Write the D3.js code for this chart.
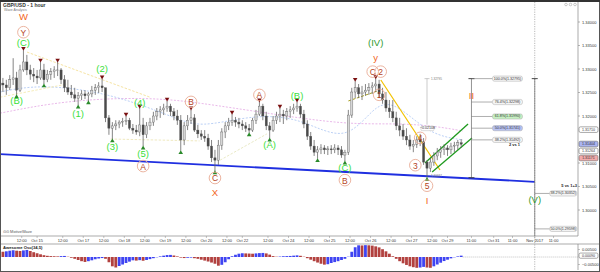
<!DOCTYPE html>
<html lang="en">
<head>
<meta charset="UTF-8">
<title>GBP/USD - 1 hour</title>
<script src="https://d3js.org/d3.v7.min.js"></script>
<style>
  body { margin: 0; background: #fff; }
  svg { display: block; font-family: "Liberation Sans", Arial, sans-serif; }
  .axis-label { font-size: 4px; fill: #333; }
  .wave { font-size: 9.5px; text-anchor: middle; dominant-baseline: central; }
  .green { fill: #3ae03a; }
  .dkgreen { fill: #2f9a2f; }
  .orange { fill: #f26522; }
  .circ-text { fill: #b5441b; font-size: 8.5px; }
  .box-text { font-size: 3.6px; fill: #333; text-anchor: middle; dominant-baseline: central; }
</style>
</head>
<body>
<div id="chart"></div>
<script>
// 2-hour bars, hour index 0 = Oct 13 12:00 (weekends collapsed)
const barHours = d3.range(-11, 258, 2);
const firstOpen = 1.3270;
const closes = [
  1.3266, 1.3260, 1.3277, 1.3281, 1.3255, 1.3298, 1.3315, 1.3298, 1.3289, 1.3285,
  1.3281, 1.3298, 1.3277, 1.3289, 1.3294, 1.3298, 1.3298, 1.3277, 1.3260, 1.3251,
  1.3245, 1.3238, 1.3243, 1.3247, 1.3243, 1.3247, 1.3255, 1.3260, 1.3264, 1.3260,
  1.3196, 1.3174, 1.3179, 1.3183, 1.3187, 1.3189, 1.3191, 1.3174, 1.3170, 1.3166,
  1.3181, 1.3160, 1.3179, 1.3187, 1.3200, 1.3209, 1.3213, 1.3217, 1.3221, 1.3209,
  1.3200, 1.3191, 1.3149, 1.3179, 1.3191, 1.3196, 1.3170, 1.3162, 1.3157, 1.3153,
  1.3136, 1.3111, 1.3106, 1.3138, 1.3166, 1.3179, 1.3187, 1.3191, 1.3187, 1.3183,
  1.3179, 1.3174, 1.3170, 1.3191, 1.3204, 1.3221, 1.3200, 1.3179, 1.3170, 1.3191,
  1.3200, 1.3204, 1.3200, 1.3209, 1.3213, 1.3217, 1.3221, 1.3204, 1.3183, 1.3157,
  1.3136, 1.3123, 1.3128, 1.3132, 1.3128, 1.3130, 1.3128, 1.3132, 1.3128, 1.3117,
  1.3123, 1.3202, 1.3251, 1.3260, 1.3247, 1.3251, 1.3255, 1.3260, 1.3264, 1.3268,
  1.3247, 1.3234, 1.3217, 1.3209, 1.3196, 1.3179, 1.3170, 1.3157, 1.3149, 1.3136,
  1.3140, 1.3149, 1.3145, 1.3102, 1.3089, 1.3102, 1.3115, 1.3123, 1.3128, 1.3132,
  1.3128, 1.3136, 1.3138, 1.3143, 1.3140
];
const highs = [
  1.3281, 1.3277, 1.3287, 1.3323, 1.3294, 1.3309, 1.3340, 1.3330, 1.3309, 1.3302,
  1.3298, 1.3315, 1.3311, 1.3298, 1.3302, 1.3306, 1.3315, 1.3302, 1.3287, 1.3277,
  1.3266, 1.3260, 1.3251, 1.3255, 1.3255, 1.3251, 1.3264, 1.3268, 1.3272, 1.3279,
  1.3260, 1.3202, 1.3187, 1.3191, 1.3191, 1.3196, 1.3200, 1.3196, 1.3183, 1.3181,
  1.3217, 1.3196, 1.3187, 1.3196, 1.3209, 1.3217, 1.3221, 1.3226, 1.3232, 1.3226,
  1.3217, 1.3213, 1.3202, 1.3187, 1.3202, 1.3213, 1.3204, 1.3181, 1.3170, 1.3170,
  1.3162, 1.3149, 1.3128, 1.3149, 1.3174, 1.3187, 1.3196, 1.3204, 1.3198, 1.3196,
  1.3191, 1.3187, 1.3183, 1.3196, 1.3213, 1.3230, 1.3226, 1.3209, 1.3187, 1.3200,
  1.3209, 1.3217, 1.3213, 1.3217, 1.3221, 1.3226, 1.3230, 1.3226, 1.3213, 1.3191,
  1.3166, 1.3149, 1.3136, 1.3140, 1.3138, 1.3136, 1.3138, 1.3140, 1.3138, 1.3136,
  1.3128, 1.3213, 1.3260, 1.3274, 1.3268, 1.3264, 1.3268, 1.3270, 1.3272, 1.32795,
  1.3277, 1.3260, 1.3251, 1.3234, 1.3234, 1.3209, 1.3196, 1.3183, 1.3174, 1.3160,
  1.3149, 1.3157, 1.3162, 1.3153, 1.3106, 1.3111, 1.3123, 1.3132, 1.3136, 1.3140,
  1.3138, 1.3143, 1.3145, 1.3149, 1.3151
];
const lows = [
  1.3251, 1.3245, 1.3255, 1.3266, 1.3245, 1.3251, 1.3294, 1.3287, 1.3277, 1.3272,
  1.3268, 1.3277, 1.3268, 1.3272, 1.3277, 1.3281, 1.3285, 1.3268, 1.3251, 1.3245,
  1.3238, 1.3230, 1.3223, 1.3234, 1.3236, 1.3232, 1.3240, 1.3245, 1.3249, 1.3251,
  1.3187, 1.3160, 1.3151, 1.3170, 1.3174, 1.3177, 1.3181, 1.3170, 1.3162, 1.3160,
  1.3157, 1.3136, 1.3153, 1.3170, 1.3179, 1.3191, 1.3196, 1.3202, 1.3209, 1.3200,
  1.3191, 1.3181, 1.3126, 1.3138, 1.3170, 1.3183, 1.3166, 1.3153, 1.3149, 1.3145,
  1.3128, 1.3102, 1.3083, 1.3096, 1.3128, 1.3153, 1.3170, 1.3179, 1.3177, 1.3174,
  1.3170, 1.3166, 1.3164, 1.3166, 1.3183, 1.3200, 1.3191, 1.3170, 1.3153, 1.3166,
  1.3183, 1.3187, 1.3183, 1.3191, 1.3196, 1.3204, 1.3209, 1.3196, 1.3174, 1.3149,
  1.3128, 1.3115, 1.3109, 1.3119, 1.3119, 1.3117, 1.3119, 1.3121, 1.3117, 1.3111,
  1.3104, 1.3117, 1.3196, 1.3238, 1.3238, 1.3234, 1.3243, 1.3245, 1.3247, 1.3251,
  1.3238, 1.3226, 1.3209, 1.3196, 1.3187, 1.3170, 1.3157, 1.3149, 1.3138, 1.3128,
  1.3123, 1.3132, 1.3136, 1.3096, 1.30687, 1.3081, 1.3094, 1.3106, 1.3111, 1.3117,
  1.3115, 1.3119, 1.3123, 1.3128, 1.3132
];
const awesomeOsc = [
  0.0035, 0.0038, 0.0042, 0.0045, 0.0042, 0.0040, 0.0044, 0.0047, 0.0040, 0.0032,
  0.0025, 0.0018, 0.0012, 0.0008, 0.0006, 0.0005, 0.0004, 0.0006, 0.0007, 0.0002,
  -0.0005, -0.0012, -0.0020, -0.0028, -0.0033, -0.0028, -0.0022, -0.0015, -0.0010, -0.0007,
  -0.0012, -0.0035, -0.0062, -0.0070, -0.0060, -0.0050, -0.0040, -0.0031, -0.0022, -0.0024,
  -0.0021, -0.0025, -0.0020, -0.0014, -0.0008, -0.0002, 0.0004, 0.0009, 0.0013, 0.0014,
  0.0010, 0.0004, -0.0004, -0.0007, -0.0005, -0.0004, -0.0008, -0.0012, -0.0018, -0.0024,
  -0.0030, -0.0037, -0.0045, -0.0058, -0.0052, -0.0035, -0.0015, 0.0005, 0.0015, 0.0022,
  0.0025, 0.0024, 0.0023, 0.0022, 0.0024, 0.0026, 0.0027, 0.0024, 0.0016, 0.0006,
  0.0002, 0.0003, 0.0005, 0.0006, 0.0007, 0.0009, 0.0011, 0.0008, 0.0002, -0.0008,
  -0.0018, -0.0028, -0.0037, -0.0045, -0.0051, -0.0048, -0.0040, -0.0034, -0.0028, -0.0020,
  -0.0012, 0.0002, 0.0035, 0.0065, 0.0078, 0.0077, 0.0079, 0.0078, 0.0076, 0.0071,
  0.0064, 0.0052, 0.0038, 0.0022, 0.0005, -0.0012, -0.0028, -0.0042, -0.0053, -0.0062,
  -0.0068, -0.0072, -0.0070, -0.0066, -0.0070, -0.0072, -0.0062, -0.0050, -0.0038, -0.0027,
  -0.0018, -0.0009, -0.0002, 0.0004, 0.0009
];

const priceTicks = [1.34, 1.335, 1.33, 1.325, 1.32, 1.31, 1.305, 1.30];
const timeTickHours = [0, 9, 24, 36, 48, 60, 72, 84, 96, 108, 120, 129, 144, 156, 168, 180, 192, 204, 216, 228, 240, 249, 263, 276, 287, 300, 311];
const timeTickLabels = ["12:00", "Oct 15", "12:00", "Oct 17", "12:00", "Oct 18", "12:00", "Oct 19", "12:00", "Oct 20", "12:00", "Oct 22",
  "12:00", "Oct 24", "12:00", "Oct 25", "12:00", "Oct 26", "12:00", "Oct 27", "12:00", "Oct 29", "11:00", "Oct 31", "11:00", "Nov 2017", "11:00"];
const oscTicks = [0.005, -0.005];

// faint moving averages [hour, price]
const maPink = [[-12.7, 1.3206], [26.5, 1.3234], [75, 1.3240], [104.3, 1.3228], [143.4, 1.3206], [190.2, 1.3181], [221.2, 1.3185], [244.6, 1.3177], [258, 1.3168]];
const maBlue = [[-12.7, 1.3251], [10.7, 1.3268], [51.6, 1.3249], [88.5, 1.3198], [104.3, 1.3174], [133.5, 1.3202], [162.8, 1.3198], [190.2, 1.3138], [207.8, 1.3234], [221.2, 1.3221], [238.8, 1.3160], [258, 1.3149]];

// wave markers (bar hour of swing highs / lows)
const highMarks = [1, 11, 21, 47, 61, 69, 85, 99, 123, 139, 151, 161, 195, 207];
const lowMarks = [-3, 13, 33, 39, 53, 71, 93, 113, 133, 145, 173, 189, 237];

const waveLabels = [
  { h: 1, at: "h", dy: -34, text: "W", cls: "orange" },
  { h: 1, at: "h", dy: -18, text: "Y", cls: "circ" },
  { h: 1, at: "h", dy: -8, text: "(C)", cls: "green" },
  { h: -3, at: "l", dy: 6, text: "(B)", cls: "green" },
  { h: 47, at: "h", dy: -10, text: "(2)", cls: "green" },
  { h: 33, at: "l", dy: 8, text: "(1)", cls: "green" },
  { h: 69, at: "h", dy: -6, text: "(4)", cls: "green" },
  { h: 53, at: "l", dy: 7, text: "(3)", cls: "green" },
  { h: 71, at: "l", dy: 7, text: "(5)", cls: "green" },
  { h: 71, at: "l", dy: 20, text: "A", cls: "circ" },
  { h: 99, at: "h", dy: -8, text: "B", cls: "circ" },
  { h: 113, at: "l", dy: 7, text: "C", cls: "circ" },
  { h: 113, at: "l", dy: 22, text: "X", cls: "orange" },
  { h: 139, at: "h", dy: -7, text: "A", cls: "circ" },
  { h: 145, at: "l", dy: 6, text: "(A)", cls: "green" },
  { h: 161, at: "h", dy: -6, text: "(B)", cls: "green" },
  { h: 189, at: "l", dy: 6, text: "(C)", cls: "green" },
  { h: 189, at: "l", dy: 19, text: "B", cls: "circ" },
  { h: 207, at: "h", dy: -36, text: "(IV)", cls: "dkgreen" },
  { h: 207, at: "h", dy: -21, text: "y", cls: "orange" },
  { h: 207, at: "h", dy: -7, dx: -3, text: "C", cls: "circ" },
  { h: 207, at: "h", dy: -7, dx: 5, text: "2", cls: "circ" },
  { h: 209, at: "h", dy: 15, text: "1", cls: "circ" },
  { h: 229, at: "l", dy: 13, dx: 2, text: "3", cls: "circ" },
  { h: 233, at: "h", dy: 4, text: "4", cls: "circ" },
  { h: 237, at: "l", dy: 8, text: "5", cls: "circ" },
  { h: 237, at: "l", dy: 23, text: "I", cls: "orange" }
];

// fibonacci tools
const fibHigh = 1.32795, fibLow = 1.30687;
const fibRatios = [1, 0.764, 0.618, 0.5, 0.382];
const fibProjRange = 0.06394;
const fibProjRatios = [0.382, 0.5];
const axisBoxes = [
  { v: 1.31710, fill: "#ffffff" },
  { v: 1.31404, fill: "#aab4f0" },
  { v: 1.31264, fill: "#ffffff" },
  { v: 1.31171, fill: "#f2aaaa" }
];

const plotRight = 578, priceTop = 2, priceBottom = 236, oscTop = 244, oscBottom = 270;

const svg = d3.select("#chart").append("svg")
  .attr("width", 600)
  .attr("height", 272);

const x = d3.scaleLinear().domain([-12.7, 325.3]).range([0, plotRight]);
const y = d3.scaleLinear().domain([1.30, 1.34]).range([210, 22]);
const yo = d3.scaleLinear().domain([-0.005, 0.005]).range([264.5, 249.5]);

svg.append("defs").append("clipPath").attr("id", "priceClip")
  .append("rect").attr("x", 0).attr("y", priceTop)
  .attr("width", plotRight).attr("height", priceBottom - priceTop);

const bars = closes.map((c, k) => ({
  h: barHours[k], o: k ? closes[k - 1] : firstOpen, hi: highs[k], lo: lows[k], c: c
}));
const barAt = h => bars[(h + 11) / 2];

const price = svg.append("g").attr("clip-path", "url(#priceClip)");

// moving averages
const maLine = d3.line().x(d => x(d[0])).y(d => y(d[1])).curve(d3.curveBasis);
price.append("path").attr("d", maLine(maPink))
  .attr("fill", "none").attr("stroke", "#e3a6e3").attr("stroke-width", 0.8).attr("stroke-dasharray", "2,1.5");
price.append("path").attr("d", maLine(maBlue))
  .attr("fill", "none").attr("stroke", "#a9c4f2").attr("stroke-width", 0.8).attr("stroke-dasharray", "2,1.5");

// trend lines [hour, price]
const trendLines = [
  { pts: [[3.1, 1.3336], [75, 1.3240]], color: "#f2dc8c", w: 0.8, dash: "2.5,1.5" },
  { pts: [[-12.7, 1.3240], [26.5, 1.3268]], color: "#f2e6a6", w: 0.8, dash: "2.5,1.5" },
  { pts: [[52, 1.3151], [104, 1.3147]], color: "#ebe3b0", w: 0.8, dash: "2.5,1.5" },
  { pts: [[116, 1.3106], [143.4, 1.3162]], color: "#e3e3b8", w: 0.8, dash: "2.5,1.5" },
  { pts: [[191, 1.3232], [209.5, 1.3255]], color: "#a8a020", w: 1, dash: "3,1.5" },
  { pts: [[210, 1.32766], [244.6, 1.30851]], color: "#f2c200", w: 1.2, dash: null },
  { pts: [[235.8, 1.3100], [261, 1.3183]], color: "#1e9a1e", w: 1.3, dash: null },
  { pts: [[240, 1.3081], [263.3, 1.3153]], color: "#1e9a1e", w: 1.3, dash: null },
  { pts: [[-12.7, 1.3119], [300, 1.3060]], color: "#1f2fe0", w: 1.8, dash: null }
];
trendLines.forEach(tl => {
  price.append("line")
    .attr("x1", x(tl.pts[0][0])).attr("y1", y(tl.pts[0][1]))
    .attr("x2", x(tl.pts[1][0])).attr("y2", y(tl.pts[1][1]))
    .attr("stroke", tl.color).attr("stroke-width", tl.w)
    .attr("stroke-dasharray", tl.dash);
});

// candles
const candles = price.append("g").selectAll("g").data(bars).join("g");
candles.append("line")
  .attr("x1", d => x(d.h)).attr("x2", d => x(d.h))
  .attr("y1", d => y(d.hi)).attr("y2", d => y(d.lo))
  .attr("stroke", "#666").attr("stroke-width", 0.8);
candles.append("rect")
  .attr("x", d => x(d.h) - 1.1).attr("width", 2.2)
  .attr("y", d => Math.min(y(d.o), y(d.c)))
  .attr("height", d => Math.max(0.6, Math.abs(y(d.o) - y(d.c))))
  .attr("fill", d => d.c >= d.o ? "#d6d6d6" : "#4a4a4a")
  .attr("stroke", "#555").attr("stroke-width", 0.35);

// swing markers
const tri = d3.symbol(d3.symbolTriangle).size(9);
price.append("g").selectAll("path").data(highMarks).join("path")
  .attr("d", tri)
  .attr("transform", h => `translate(${x(h)},${y(barAt(h).hi) - 2}) rotate(180)`)
  .attr("fill", "#7a1010");
price.append("g").selectAll("path").data(lowMarks).join("path")
  .attr("d", tri)
  .attr("transform", h => `translate(${x(h)},${y(barAt(h).lo) + 2})`)
  .attr("fill", "#2a8a2a");

// measuring tool near wave 5
const measH = 237;
const mg = svg.append("g").attr("stroke", "#aaa").attr("stroke-width", 0.6);
mg.append("line").attr("x1", x(measH)).attr("x2", x(measH)).attr("y1", y(fibHigh)).attr("y2", y(fibHigh) + 46);
mg.append("line").attr("x1", x(measH) - 2.5).attr("x2", x(measH) + 2.5).attr("y1", y(fibHigh)).attr("y2", y(fibHigh));
svg.append("text").attr("x", x(measH) + 4).attr("y", y(fibHigh) + 1.5)
  .attr("font-size", 3).attr("fill", "#777").text(d3.format(".5f")(fibHigh));
svg.append("rect").attr("x", x(measH) - 6).attr("y", y(fibHigh) + 47.5).attr("width", 13).attr("height", 4.5)
  .attr("rx", 1).attr("fill", "#fff").attr("stroke", "#aaa").attr("stroke-width", 0.4);
svg.append("text").attr("class", "box-text").attr("x", x(measH) + 0.5).attr("y", y(fibHigh) + 49.8)
  .attr("font-size", 3).text(d3.format(".5f")(fibLow - fibHigh));
svg.append("text").attr("x", x(measH) + 4).attr("y", y(fibLow) - 1)
  .attr("font-size", 3).attr("fill", "#777").text(d3.format(".5f")(fibLow));

// wave labels
const labelPos = d => {
  const b = barAt(d.h);
  return [x(d.h) + (d.dx || 0), y(d.at === "h" ? b.hi : b.lo) + d.dy];
};
const labels = svg.append("g");
waveLabels.forEach(d => {
  const [lx, ly] = labelPos(d);
  if (d.cls === "circ") {
    labels.append("circle").attr("cx", lx).attr("cy", ly).attr("r", 5.8)
      .attr("fill", "none").attr("stroke", "#e9ab95").attr("stroke-width", 0.9);
    labels.append("text").attr("class", "wave circ-text").attr("x", lx).attr("y", ly + 0.5).text(d.text);
  } else {
    labels.append("text").attr("class", "wave " + d.cls).attr("x", lx).attr("y", ly).text(d.text);
  }
});

// fib retracement tool
const fibH = 263;
const fibX = x(fibH), boxX = fibX + 21, boxW = 30;
const fg = svg.append("g");
fg.append("line").attr("x1", fibX).attr("x2", fibX).attr("y1", y(fibHigh)).attr("y2", y(fibLow))
  .attr("stroke", "#666").attr("stroke-width", 0.7);
[fibHigh, fibLow].forEach(v => {
  fg.append("line").attr("x1", fibX - 3).attr("x2", fibX + 3).attr("y1", y(v)).attr("y2", y(v))
    .attr("stroke", "#333").attr("stroke-width", 0.9);
});
fibRatios.forEach(r => {
  const v = fibLow + r * (fibHigh - fibLow);
  const fill = r === 0.618 ? "#c6efc2" : r === 0.5 ? "#b8c2f2" : "#f4f4f4";
  fg.append("line").attr("x1", fibX).attr("x2", boxX).attr("y1", y(v)).attr("y2", y(v))
    .attr("stroke", "#777").attr("stroke-width", 0.6);
  fg.append("rect").attr("x", boxX).attr("y", y(v) - 2.6).attr("width", boxW).attr("height", 5.2)
    .attr("rx", 2).attr("fill", fill).attr("stroke", "#999").attr("stroke-width", 0.4);
  fg.append("text").attr("class", "box-text").attr("x", boxX + boxW / 2).attr("y", y(v))
    .text(`${(r * 100).toFixed(1)}%(${v.toFixed(5)})`);
});
fg.append("text").attr("x", boxX + 22).attr("y", y(fibLow + 0.382 * (fibHigh - fibLow)) + 6)
  .attr("font-size", 4).attr("font-weight", "bold").attr("text-anchor", "middle").attr("fill", "#222").text("2 vs 1");
fg.append("text").attr("class", "wave orange").attr("x", fibX).attr("y", y(fibHigh) + 17)
  .attr("font-size", 11).text("II");

// fib projection tool
const projH = 300;
const projX = x(projH), projBoxX = projX + 15, projBoxW = 27;
const pg = svg.append("g");
pg.append("line").attr("x1", projX).attr("x2", projX).attr("y1", priceTop).attr("y2", oscBottom)
  .attr("stroke", "#888").attr("stroke-width", 0.6).attr("stroke-dasharray", "1.2,1.2");
pg.append("line").attr("x1", projX).attr("x2", projX).attr("y1", y(fibHigh)).attr("y2", priceBottom)
  .attr("stroke", "#666").attr("stroke-width", 0.7);
pg.append("line").attr("x1", projX - 3).attr("x2", projX + 3).attr("y1", y(fibHigh)).attr("y2", y(fibHigh))
  .attr("stroke", "#333").attr("stroke-width", 0.9);
fibProjRatios.forEach(r => {
  const v = fibHigh - r * fibProjRange;
  pg.append("line").attr("x1", projX).attr("x2", projBoxX).attr("y1", y(v)).attr("y2", y(v))
    .attr("stroke", "#777").attr("stroke-width", 0.6);
  pg.append("rect").attr("x", projBoxX).attr("y", y(v) - 2.6).attr("width", projBoxW).attr("height", 5.2)
    .attr("rx", 2).attr("fill", "#f4f4f4").attr("stroke", "#999").attr("stroke-width", 0.4);
  pg.append("text").attr("class", "box-text").attr("x", projBoxX + projBoxW / 2).attr("y", y(v))
    .text(`${(r * 100).toFixed(1)}%(${v.toFixed(5)})`);
});
const proj382 = fibHigh - 0.382 * fibProjRange;
pg.append("text").attr("x", plotRight - 1).attr("y", y(proj382) - 6).attr("text-anchor", "end")
  .attr("font-size", 4).attr("font-weight", "bold").attr("fill", "#222").text("5 vs 1+3");
pg.append("text").attr("class", "wave dkgreen").attr("x", projX).attr("y", y(proj382) + 6).text("(V)");

// price axis (right)
svg.append("line").attr("x1", plotRight).attr("x2", plotRight).attr("y1", priceTop).attr("y2", priceBottom)
  .attr("stroke", "#888").attr("stroke-width", 0.7);
priceTicks.forEach(v => {
  svg.append("line").attr("x1", plotRight).attr("x2", plotRight + 2).attr("y1", y(v)).attr("y2", y(v))
    .attr("stroke", "#888").attr("stroke-width", 0.6);
  svg.append("text").attr("class", "axis-label").attr("x", plotRight + 4).attr("y", y(v))
    .attr("dominant-baseline", "central").text(d3.format(".5f")(v));
});
let lastY = -Infinity;
axisBoxes.forEach(b => {
  const by = Math.max(y(b.v), lastY + 7);
  lastY = by;
  svg.append("rect").attr("x", plotRight + 1).attr("y", by - 2.8).attr("width", 19).attr("height", 5.6)
    .attr("rx", 1.5).attr("fill", b.fill).attr("stroke", "#555").attr("stroke-width", 0.5);
  svg.append("text").attr("class", "box-text").attr("font-size", 3.8).attr("x", plotRight + 10.5).attr("y", by)
    .text(d3.format(".5f")(b.v));
});

// time axis
svg.append("line").attr("x1", 0).attr("x2", plotRight).attr("y1", priceBottom).attr("y2", priceBottom)
  .attr("stroke", "#888").attr("stroke-width", 0.7);
timeTickHours.forEach((h, i) => {
  svg.append("line").attr("x1", x(h)).attr("x2", x(h)).attr("y1", priceBottom).attr("y2", priceBottom + 2)
    .attr("stroke", "#888").attr("stroke-width", 0.5);
  svg.append("text").attr("class", "axis-label").attr("font-size", 3.8).attr("x", x(h)).attr("y", priceBottom + 4.3)
    .attr("text-anchor", "middle").attr("dominant-baseline", "central").text(timeTickLabels[i]);
});

// oscillator panel
svg.append("line").attr("x1", 0).attr("x2", 600).attr("y1", oscTop).attr("y2", oscTop)
  .attr("stroke", "#888").attr("stroke-width", 0.7);
svg.append("line").attr("x1", plotRight).attr("x2", plotRight).attr("y1", oscTop).attr("y2", oscBottom)
  .attr("stroke", "#888").attr("stroke-width", 0.7);
svg.append("g").selectAll("rect").data(awesomeOsc).join("rect")
  .attr("x", (v, k) => x(barHours[k]) - 1.4)
  .attr("width", 2.8)
  .attr("y", v => Math.min(yo(v), yo(0)))
  .attr("height", v => Math.abs(yo(v) - yo(0)))
  .attr("fill", (v, k) => k > 0 && v > awesomeOsc[k - 1] ? "#3f44f2" : "#b2413f");
svg.append("line")
  .attr("x1", x(barHours[barHours.length - 1]) + 1.5).attr("x2", plotRight)
  .attr("y1", yo(0)).attr("y2", yo(0))
  .attr("stroke", "#888").attr("stroke-width", 0.5).attr("stroke-dasharray", "1,1");
oscTicks.forEach(v => {
  svg.append("line").attr("x1", plotRight).attr("x2", plotRight + 2).attr("y1", yo(v)).attr("y2", yo(v))
    .attr("stroke", "#888").attr("stroke-width", 0.5);
  svg.append("text").attr("class", "axis-label").attr("x", plotRight + 4).attr("y", yo(v))
    .attr("dominant-baseline", "central").text(d3.format(".5f")(v));
});
const lastAO = awesomeOsc[awesomeOsc.length - 1];
svg.append("rect").attr("x", plotRight + 1).attr("y", yo(lastAO) - 2.6).attr("width", 19).attr("height", 5.2)
  .attr("rx", 1.5).attr("fill", "#fff").attr("stroke", "#555").attr("stroke-width", 0.5);
svg.append("text").attr("class", "box-text").attr("font-size", 3.8).attr("x", plotRight + 10.5).attr("y", yo(lastAO))
  .text(d3.format(".5f")(lastAO));
svg.append("text").attr("x", 3).attr("y", oscTop + 4.5).attr("font-size", 4.2).attr("font-weight", "bold")
  .attr("fill", "#222").text("Awesome Osc(34,5)");

// titles and frame
svg.append("text").attr("x", 3).attr("y", 6.5).attr("font-size", 5).attr("font-weight", "bold")
  .attr("fill", "#333").text("GBP/USD - 1 hour");
svg.append("text").attr("x", 4).attr("y", 11.2).attr("font-size", 3.5).attr("fill", "#777").text("Wave Analysis");
svg.append("text").attr("x", 3).attr("y", 233).attr("font-size", 4).attr("fill", "#555").text("⊙⊙ MotiveWave");
[566, 570.5, 575].forEach(cx => {
  svg.append("circle").attr("cx", cx).attr("cy", 4.5).attr("r", 1.3)
    .attr("fill", "none").attr("stroke", "#999").attr("stroke-width", 0.5);
});
svg.append("rect").attr("x", 0.5).attr("y", 0.5).attr("width", 599).attr("height", 271)
  .attr("fill", "none").attr("stroke", "#555").attr("stroke-width", 1);
svg.append("line").attr("x1", 0).attr("x2", 600).attr("y1", 1).attr("y2", 1)
  .attr("stroke", "#333").attr("stroke-width", 2);
</script>
</body>
</html>
